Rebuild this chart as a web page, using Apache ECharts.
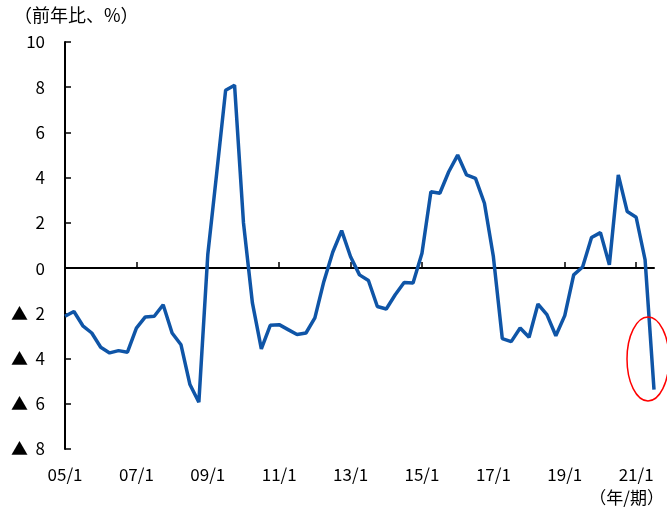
<!DOCTYPE html>
<html><head><meta charset="utf-8">
<script src="https://cdn.jsdelivr.net/npm/echarts@6/dist/echarts.min.js"></script>
<style>html,body{margin:0;padding:0;background:#fff}#c{width:667px;height:519px}</style>
</head><body><div id="c"></div>
<script>
const categories = [
 '05/1','05/2','05/3','05/4','06/1','06/2','06/3','06/4',
 '07/1','07/2','07/3','07/4','08/1','08/2','08/3','08/4',
 '09/1','09/2','09/3','09/4','10/1','10/2','10/3','10/4',
 '11/1','11/2','11/3','11/4','12/1','12/2','12/3','12/4',
 '13/1','13/2','13/3','13/4','14/1','14/2','14/3','14/4',
 '15/1','15/2','15/3','15/4','16/1','16/2','16/3','16/4',
 '17/1','17/2','17/3','17/4','18/1','18/2','18/3','18/4',
 '19/1','19/2','19/3','19/4','20/1','20/2','20/3','20/4',
 '21/1','21/2','21/3'
];
const values = [
 -2.13,-1.92,-2.55,-2.87,-3.5,-3.75,-3.65,-3.72,
 -2.65,-2.16,-2.13,-1.62,-2.87,-3.39,-5.15,-5.93,
 0.6,4.2,7.87,8.09,2.0,-1.54,-3.57,-2.53,
 -2.5,-2.72,-2.94,-2.87,-2.2,-0.6,0.7,1.66,
 0.5,-0.3,-0.55,-1.7,-1.81,-1.18,-0.64,-0.66,
 0.66,3.38,3.31,4.26,5.0,4.12,3.97,2.87,
 0.51,-3.12,-3.25,-2.65,-3.06,-1.59,-2.06,-2.99,
 -2.1,-0.3,0.05,1.35,1.57,0.15,4.12,2.5,
 2.25,0.37,-5.37
];
const yTicks = {min: -8, max: 10, interval: 2};
const yTitle = '（前年比、%）';
const xTitle = '（年/期）';

const FONT = '"Noto Sans CJK JP", sans-serif';
const chart = echarts.init(document.getElementById('c'), null, {renderer: 'canvas'});
chart.setOption({
  animation: false,
  backgroundColor: '#fff',
  grid: {left: 65, right: 13, top: 42, bottom: 70},
  xAxis: [
    {
      type: 'category', data: categories, boundaryGap: false,
      position: 'bottom',
      axisLine: {show: false, onZero: false},
      axisTick: {show: false},
      axisLabel: {interval: 7, margin: 17, color: '#000', fontSize: 17, fontFamily: FONT},
      splitLine: {show: false}
    },
    {
      type: 'category', data: categories, boundaryGap: false,
      position: 'bottom',
      axisLine: {show: true, onZero: true, lineStyle: {color: '#000', width: 2}},
      axisTick: {show: true, inside: true, interval: 7, length: 6, lineStyle: {color: '#000', width: 1.5}},
      axisLabel: {show: false},
      splitLine: {show: false}
    }
  ],
  yAxis: {
    type: 'value', min: yTicks.min, max: yTicks.max, interval: yTicks.interval,
    axisLine: {show: true, lineStyle: {color: '#000', width: 2}},
    axisTick: {show: true, inside: true, length: 6, lineStyle: {color: '#000', width: 1.5}},
    splitLine: {show: false},
    axisLabel: {
      margin: 20, color: '#000', fontSize: 17, fontFamily: FONT,
      formatter: v => v < 0 ? '▲  ' + (-v) : String(v)
    }
  },
  series: [{
    type: 'line', data: values, xAxisIndex: 0, symbol: 'none',
    lineStyle: {color: '#0f55a7', width: 3.5}
  }],
  graphic: [
    {type: 'text', left: 14, top: 6, style: {text: yTitle, fontSize: 18, fontFamily: FONT, fill: '#000'}},
    {type: 'text', right: 3, top: 489, style: {text: xTitle, fontSize: 17, fontFamily: FONT, fill: '#000'}},
    {type: 'ellipse', shape: {cx: 648, cy: 359, rx: 21, ry: 42},
      style: {fill: 'none', stroke: '#ff0000', lineWidth: 1.5}, z: 10}
  ]
});
</script></body></html>
